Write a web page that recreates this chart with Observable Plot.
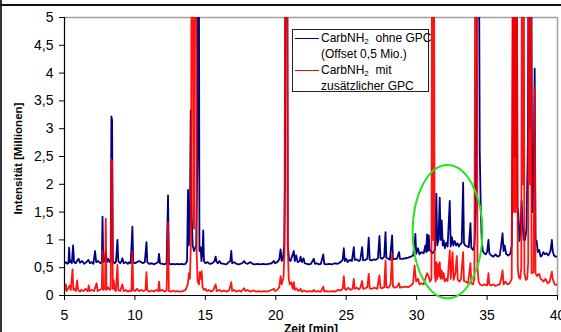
<!DOCTYPE html>
<html>
<head>
<meta charset="utf-8">
<script src="https://cdn.jsdelivr.net/npm/d3@7"></script>
<script src="https://cdn.jsdelivr.net/npm/@observablehq/plot@0.6"></script>
<style>
  html, body { margin: 0; padding: 0; background: #fff; }
  #c { position: relative; width: 561px; height: 332px; overflow: hidden; background: #fff; font-family: "Liberation Sans", Arial, sans-serif; }
  #c svg { position: absolute; left: 0; top: 0; }
  .ov { position: absolute; pointer-events: none; }
  .lt { position: absolute; font-size: 12px; line-height: 16px; white-space: pre; color: #000; }
  .sub { font-size: 8px; position: relative; top: 2px; }
</style>
</head>
<body>
<div id="c"></div>
<script>
// Achsen
const xTicks = [5, 10, 15, 20, 25, 30, 35, 40];
const yTicks = [0, 0.5, 1, 1.5, 2, 2.5, 3, 3.5, 4, 4.5, 5];
const yTickLabels = ["0", "0,5", "1", "1,5", "2", "2,5", "3", "3,5", "4", "4,5", "5"];
const xTitel = "Zeit [min]";
const yTitel = "Intensität [Millionen]";

// CarbNH2 ohne GPC (Offset 0,5 Mio.) – [Zeit, Intensität] (Werte > 5 laufen über den Rand)
const ohneGPC = [
[5.0,0.58],[5.1,0.6],[5.2,0.57],[5.28,0.58],[5.33,0.86],[5.38,0.6],[5.45,0.62],[5.52,0.58],[5.61,0.9],[5.68,0.6],
[5.8,0.58],[5.9,0.63],[6.0,0.66],[6.1,0.59],[6.25,0.62],[6.4,0.57],[6.55,0.6],[6.7,0.64],[6.8,0.58],[6.95,0.6],
[7.05,0.57],[7.17,0.8],[7.25,0.6],[7.4,0.62],[7.55,0.58],[7.65,0.6],[7.70,1.42],[7.75,0.6],[7.85,0.62],[7.93,0.8],
[8.0,0.6],[8.1,0.66],[8.2,0.6],[8.28,0.65],[8.33,3.22],[8.38,3.15],[8.43,0.62],[8.55,0.58],[8.65,0.6],[8.76,1.0],
[8.82,0.62],[8.95,0.58],[9.05,0.62],[9.11,0.67],[9.2,0.58],[9.35,0.6],[9.5,0.57],[9.6,0.6],[9.7,0.58],[9.82,1.24],
[9.88,0.6],[10.0,0.58],[10.15,0.6],[10.3,0.62],[10.45,0.6],[10.55,0.58],[10.7,0.6],[10.82,0.96],[10.88,0.6],[11.0,0.57],
[11.2,0.58],[11.35,0.56],[11.5,0.58],[11.65,0.6],[11.71,0.75],[11.78,0.58],[11.95,0.57],[12.1,0.56],[12.25,0.58],[12.35,1.8],
[12.41,0.58],[12.55,0.56],[12.7,0.57],[12.85,0.56],[13.0,0.57],[13.15,0.56],[13.3,0.57],[13.45,0.56],[13.6,0.57],[13.7,0.62],
[13.77,1.9],[13.82,0.9],[13.9,1.2],[13.96,3.33],[14.02,1.5],[14.1,0.9],[14.2,0.8],[14.35,0.9],[14.44,2.5],[14.48,8],
[14.53,8],[14.58,0.8],[14.67,0.87],[14.72,0.62],[14.8,0.8],[14.85,1.17],[14.9,0.62],[15.0,0.58],[15.15,0.6],[15.3,0.57],
[15.5,0.58],[15.65,0.62],[15.73,0.7],[15.8,0.6],[15.9,0.58],[16.0,0.62],[16.1,0.58],[16.3,0.57],[16.5,0.56],[16.65,0.6],
[16.77,0.62],[16.84,0.8],[16.9,0.58],[17.05,0.6],[17.2,0.57],[17.4,0.56],[17.6,0.58],[17.75,0.62],[17.85,0.58],[18.0,0.57],
[18.2,0.6],[18.35,0.57],[18.5,0.56],[18.7,0.57],[18.9,0.56],[19.1,0.57],[19.3,0.56],[19.5,0.57],[19.7,0.58],[19.87,0.62],
[19.95,0.58],[20.1,0.6],[20.25,0.65],[20.34,0.83],[20.42,0.62],[20.5,0.65],[20.6,0.9],[20.65,2.0],[20.7,8],[20.8,8],
[20.85,0.9],[20.95,0.64],[21.05,0.62],[21.15,0.7],[21.28,0.8],[21.35,0.62],[21.45,0.72],[21.55,0.6],[21.7,0.62],[21.76,0.7],
[21.85,0.6],[21.97,0.67],[22.05,0.58],[22.2,0.57],[22.35,0.56],[22.5,0.57],[22.7,0.66],[22.78,0.57],[22.9,0.58],[23.05,0.56],
[23.2,0.57],[23.37,0.74],[23.44,0.57],[23.6,0.56],[23.8,0.57],[24.0,0.56],[24.2,0.58],[24.4,0.57],[24.6,0.6],[24.75,0.64],
[24.83,0.85],[24.9,0.62],[25.0,0.66],[25.1,0.6],[25.25,0.64],[25.4,0.62],[25.54,0.87],[25.6,0.64],[25.75,0.65],[25.9,0.62],
[26.0,0.64],[26.13,0.87],[26.2,0.63],[26.35,0.64],[26.5,0.66],[26.6,1.04],[26.67,0.64],[26.8,0.63],[26.95,0.65],[27.1,0.64],
[27.25,0.67],[27.36,1.07],[27.43,0.68],[27.55,0.66],[27.7,0.7],[27.79,1.14],[27.85,0.68],[28.0,0.66],[28.1,0.64],[28.26,1.08],
[28.32,0.65],[28.45,0.66],[28.6,0.66],[28.75,0.78],[28.82,0.66],[29.0,0.66],[29.2,0.67],[29.4,0.68],[29.6,0.7],[29.75,0.72],
[29.85,0.9],[29.91,1.11],[29.97,0.75],[30.1,0.85],[30.2,0.74],[30.35,0.78],[30.5,0.76],[30.62,0.9],[30.68,0.78],[30.74,1.1],
[30.8,0.8],[30.86,1.08],[30.92,0.82],[31.0,0.8],[31.1,0.76],[31.2,0.78],[31.3,0.82],[31.4,1.83],[31.46,0.9],[31.55,1.0],
[31.64,1.76],[31.7,1.0],[31.78,1.35],[31.85,0.9],[31.92,0.99],[32.0,0.85],[32.1,0.95],[32.2,0.88],[32.35,1.7],[32.42,0.88],
[32.5,1.05],[32.6,0.9],[32.7,0.98],[32.8,0.9],[32.9,0.94],[33.0,0.88],[33.1,0.92],[33.2,0.95],[33.3,2.03],[33.36,0.94],
[33.45,0.9],[33.6,0.88],[33.7,0.87],[33.82,1.3],[33.88,0.86],[34.0,0.82],[34.1,0.9],[34.2,1.5],[34.3,8],[34.4,8],
[34.48,2.6],[34.55,1.6],[34.62,1.0],[34.7,0.8],[34.8,0.76],[34.9,0.74],[35.0,0.78],[35.1,1.0],[35.16,0.76],[35.3,0.72],
[35.45,0.7],[35.6,0.74],[35.75,0.7],[35.9,0.72],[36.0,0.9],[36.1,1.12],[36.17,0.8],[36.25,0.9],[36.35,0.75],[36.5,0.72],
[36.65,0.75],[36.75,0.9],[36.82,3.15],[36.86,8],[36.92,2.5],[36.97,8],[37.03,2.5],[37.1,8],[37.15,1.6],[37.22,1.48],
[37.3,0.98],[37.38,1.2],[37.45,1.7],[37.52,1.3],[37.6,1.0],[37.7,1.0],[37.8,1.2],[37.9,2.8],[37.96,8],[38.04,3.0],
[38.12,8],[38.2,1.5],[38.3,2.0],[38.38,4.08],[38.44,1.0],[38.52,0.98],[38.6,0.78],[38.7,0.82],[38.8,0.7],[38.9,0.72],
[39.0,0.78],[39.1,0.74],[39.2,0.76],[39.35,0.72],[39.5,0.8],[39.6,1.0],[39.66,0.8],[39.75,0.72],[39.85,0.7],[40.0,0.7]
];

// CarbNH2 mit zusätzlicher GPC – [Zeit, Intensität]
const mitGPC = [
[5.0,0.1],[5.1,0.2],[5.15,0.08],[5.25,0.12],[5.35,0.18],[5.45,0.1],[5.57,0.47],[5.63,0.1],[5.7,0.12],[5.8,0.08],
[5.9,0.27],[5.96,0.1],[6.1,0.07],[6.2,0.1],[6.35,0.08],[6.5,0.12],[6.65,0.08],[6.72,0.18],[6.8,0.08],[6.95,0.1],
[7.1,0.08],[7.28,0.22],[7.35,0.08],[7.5,0.1],[7.65,0.12],[7.70,0.8],[7.75,0.1],[7.88,0.12],[7.93,1.38],[7.98,0.1],
[8.1,0.15],[8.2,0.1],[8.28,0.12],[8.33,2.45],[8.38,2.4],[8.43,0.12],[8.5,0.27],[8.56,0.1],[8.65,0.08],[8.76,0.55],
[8.82,0.1],[8.95,0.08],[9.05,0.15],[9.11,0.2],[9.2,0.08],[9.35,0.1],[9.5,0.07],[9.65,0.09],[9.75,0.08],[9.82,0.8],
[9.88,0.1],[10.0,0.08],[10.15,0.12],[10.3,0.08],[10.45,0.1],[10.6,0.08],[10.75,0.1],[10.82,0.42],[10.88,0.1],[11.0,0.07],
[11.2,0.09],[11.35,0.07],[11.5,0.1],[11.65,0.08],[11.71,0.25],[11.78,0.08],[11.95,0.1],[12.1,0.07],[12.25,0.09],[12.35,1.32],
[12.41,0.08],[12.55,0.07],[12.7,0.09],[12.85,0.07],[13.0,0.08],[13.2,0.07],[13.4,0.08],[13.6,0.1],[13.75,0.2],[13.84,0.4],
[13.9,0.3],[13.98,1.0],[14.03,8],[14.1,8],[14.15,1.5],[14.2,1.2],[14.24,8],[14.33,8],[14.38,0.8],[14.45,0.25],
[14.55,0.2],[14.6,0.42],[14.66,0.3],[14.74,0.44],[14.8,0.15],[14.9,0.1],[15.0,0.12],[15.1,0.08],[15.25,0.1],[15.4,0.07],
[15.55,0.09],[15.73,0.2],[15.8,0.08],[16.0,0.1],[16.15,0.07],[16.3,0.09],[16.5,0.07],[16.7,0.1],[16.84,0.24],[16.9,0.08],
[17.05,0.1],[17.2,0.07],[17.4,0.09],[17.55,0.07],[17.75,0.13],[17.85,0.08],[18.0,0.1],[18.2,0.07],[18.4,0.09],[18.6,0.07],
[18.8,0.08],[19.0,0.07],[19.2,0.08],[19.4,0.07],[19.6,0.09],[19.87,0.12],[19.95,0.08],[20.1,0.1],[20.25,0.15],[20.34,0.35],
[20.42,0.2],[20.55,0.33],[20.62,0.8],[20.68,8],[20.8,8],[20.86,0.8],[20.92,0.3],[21.0,0.2],[21.1,0.24],[21.2,0.12],
[21.28,0.24],[21.35,0.1],[21.45,0.13],[21.6,0.08],[21.76,0.12],[21.85,0.07],[22.0,0.09],[22.2,0.07],[22.4,0.08],[22.6,0.07],
[22.7,0.1],[22.8,0.07],[23.0,0.08],[23.2,0.07],[23.37,0.16],[23.44,0.07],[23.6,0.08],[23.8,0.07],[24.0,0.08],[24.2,0.07],
[24.4,0.1],[24.6,0.09],[24.75,0.12],[24.83,0.35],[24.9,0.12],[25.0,0.1],[25.15,0.14],[25.3,0.1],[25.45,0.12],[25.54,0.3],
[25.6,0.12],[25.75,0.14],[25.9,0.11],[26.0,0.14],[26.13,0.26],[26.2,0.12],[26.35,0.13],[26.5,0.15],[26.6,0.39],[26.67,0.13],
[26.8,0.12],[27.0,0.14],[27.2,0.12],[27.36,0.36],[27.43,0.14],[27.55,0.13],[27.7,0.15],[27.79,0.63],[27.85,0.15],[28.0,0.14],
[28.15,0.2],[28.26,0.74],[28.32,0.16],[28.45,0.14],[28.6,0.15],[28.75,0.22],[28.82,0.14],[29.0,0.15],[29.2,0.16],[29.4,0.15],
[29.6,0.18],[29.75,0.22],[29.85,0.54],[29.91,0.38],[29.97,0.25],[30.1,0.3],[30.2,0.2],[30.35,0.22],[30.5,0.2],[30.62,0.3],
[30.74,0.4],[30.86,0.34],[30.95,0.25],[31.05,0.3],[31.1,8],[31.16,1.0],[31.22,8],[31.28,0.4],[31.35,0.25],[31.4,0.6],
[31.46,0.3],[31.55,0.57],[31.6,0.35],[31.64,0.6],[31.7,0.3],[31.78,0.45],[31.85,0.3],[31.92,0.4],[32.0,0.25],[32.1,0.3],
[32.2,0.26],[32.35,0.81],[32.42,0.3],[32.55,0.78],[32.62,0.28],[32.75,0.4],[32.85,0.71],[32.92,0.28],[33.05,0.25],[33.15,0.3],
[33.3,0.78],[33.36,0.26],[33.5,0.25],[33.65,0.22],[33.82,0.58],[33.88,0.22],[34.0,0.2],[34.1,0.3],[34.17,8],[34.26,8],
[34.32,0.5],[34.4,0.25],[34.5,0.2],[34.65,0.18],[34.8,0.2],[35.0,0.18],[35.1,0.4],[35.16,0.2],[35.3,0.18],[35.45,0.2],
[35.6,0.17],[35.75,0.19],[35.9,0.2],[36.0,0.3],[36.1,0.45],[36.17,0.2],[36.3,0.25],[36.45,0.2],[36.6,0.22],[36.75,0.3],
[36.84,8],[36.9,1.5],[36.96,8],[37.03,1.5],[37.1,8],[37.18,0.5],[37.25,0.33],[37.35,0.3],[37.43,0.5],[37.48,8],
[37.55,2.0],[37.6,8],[37.65,0.4],[37.75,0.28],[37.85,0.3],[37.92,0.6],[37.96,8],[38.03,2.0],[38.1,8],[38.16,0.4],
[38.3,0.42],[38.38,3.75],[38.44,0.4],[38.55,0.35],[38.7,0.39],[38.8,0.3],[38.9,0.28],[39.0,0.25],[39.15,0.3],[39.3,0.22],
[39.45,0.25],[39.6,0.43],[39.66,0.3],[39.8,0.2],[39.9,0.19],[40.0,0.2]
];

// Markierung (grüne Ellipse): Mittelpunkt [Zeit, Intensität] und Halbachsen
const ellipseMitte = [32.23, 1.14];
const ellipseHalbachsen = [2.48, 1.2];

function ellipseMark(index, scales, values, dimensions) {
  const sx = scales.x, sy = scales.y;
  const cx = sx(ellipseMitte[0]), cy = sy(ellipseMitte[1]);
  const rx = Math.abs(sx(ellipseMitte[0] + ellipseHalbachsen[0]) - cx);
  const ry = Math.abs(sy(ellipseMitte[1] + ellipseHalbachsen[1]) - cy);
  const ns = "http://www.w3.org/2000/svg";
  const e = document.createElementNS(ns, "ellipse");
  e.setAttribute("cx", cx); e.setAttribute("cy", cy);
  e.setAttribute("rx", rx); e.setAttribute("ry", ry);
  e.setAttribute("fill", "none"); e.setAttribute("stroke", "#22e622"); e.setAttribute("stroke-width", "2");
  return e;
}

const chart = Plot.plot({
  width: 561,
  height: 332,
  marginLeft: 64,
  marginRight: 4,
  marginTop: 17,
  marginBottom: 37,
  style: { fontFamily: "'Liberation Sans', Arial, sans-serif", fontSize: "14px", color: "#000", background: "transparent", overflow: "visible" },
  x: { domain: [5, 40], ticks: xTicks, tickSize: 5, tickPadding: 10, label: null },
  y: { domain: [0, 5], ticks: yTicks, tickFormat: d => yTickLabels[yTicks.indexOf(d)], tickSize: 5, tickPadding: 6, label: null },
  marks: [
    Plot.ruleY([5], { stroke: "#a0a0a0", strokeWidth: 1.5 }),
    Plot.ruleX([40], { stroke: "#a0a0a0", strokeWidth: 1.5 }),
    Plot.line(ohneGPC, { x: d => d[0], y: d => d[1], stroke: "#000080", strokeWidth: 1.8, clip: true }),
    Plot.line(mitGPC, { x: d => d[0], y: d => d[1], stroke: "#ff0000", strokeWidth: 1.8, strokeOpacity: 0.92, clip: true }),
    Plot.ruleX([5], { stroke: "#000", strokeWidth: 1.2 }),
    Plot.ruleY([0], { stroke: "#000", strokeWidth: 1.2 }),
    ellipseMark,
    Plot.text([yTitel], { frameAnchor: "left", textAnchor: "middle", lineAnchor: "middle", dx: -46.5, dy: 2, rotate: -90, fontWeight: "bold", fontSize: 11.5 }),
    Plot.text([xTitel], { frameAnchor: "bottom", textAnchor: "middle", lineAnchor: "top", dy: 29, fontWeight: "bold", fontSize: 12 })
  ]
});

const c = document.getElementById("c");
c.appendChild(chart);

// Rahmen der Abbildung
function ov(style) { const d = document.createElement("div"); d.className = "ov"; d.setAttribute("style", style); c.appendChild(d); return d; }
ov("left:0;top:0;width:2px;height:332px;background:#333;");
ov("left:0;top:4px;width:561px;height:2px;background:#111;");

// Legende
ov("left:292px;top:29px;width:135px;height:61px;border:1px solid #222;background:#fff;");
ov("left:295px;top:38px;width:24px;height:1px;background:#000080;");
ov("left:295px;top:70px;width:24px;height:1px;background:#ff0000;");
const legendTexte = [
  { top: 30, html: 'CarbNH<span class="sub">2</span>  ohne GPC' },
  { top: 46, html: '(Offset 0,5 Mio.)' },
  { top: 62, html: 'CarbNH<span class="sub">2</span>  mit' },
  { top: 78, html: 'zusätzlicher GPC' }
];
for (const t of legendTexte) {
  const d = ov("left:321px;top:" + t.top + "px;");
  d.classList.add("lt");
  d.innerHTML = t.html;
}
</script>
</body>
</html>
